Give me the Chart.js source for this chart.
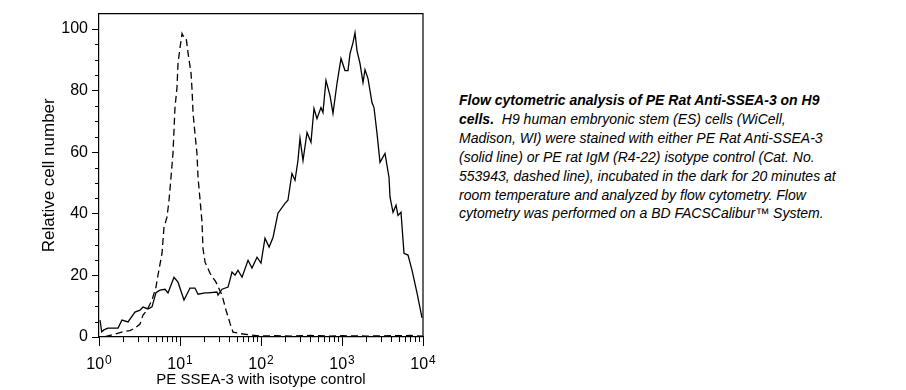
<!DOCTYPE html>
<html>
<head>
<meta charset="utf-8">
<script src="https://cdn.jsdelivr.net/npm/chart.js@4.4.1/dist/chart.umd.min.js"></script>
<style>
    body { margin: 0; background: #fff; width: 906px; height: 390px; position: relative; overflow: hidden; }
    #wrap { position: absolute; left: 0; top: 0; width: 440px; height: 390px; }
    #caption {
        position: absolute; left: 459px; top: 91px;
        font-family: "Liberation Sans", Arial, sans-serif;
        font-style: italic; font-size: 14px; line-height: 18.9px;
        white-space: nowrap; color: #000;
    }
</style>
</head>
<body>
<div id="wrap"><canvas id="facsChart"></canvas></div>
<div id="caption">
<b>Flow cytometric analysis of PE Rat Anti-SSEA-3 on H9<br>cells.</b>&nbsp; H9 human embryonic stem (ES) cells (WiCell,<br>
Madison, WI) were stained with either PE Rat Anti-SSEA-3<br>
(solid line) or PE rat IgM (R4-22) isotype control (Cat. No.<br>
553943, dashed line), incubated in the dark for 20 minutes at<br>
room temperature and analyzed by flow cytometry. Flow<br>
cytometry was performed on a BD FACSCalibur™ System.
</div>
<script>
// PE Rat Anti-SSEA-3 (solid line)
const solidX = [1.03, 1.08, 1.15, 1.29, 1.72, 1.92, 2.28, 2.78, 3.21, 3.49, 4.03, 4.51, 5.05, 5.66, 6.53, 7.11, 8.43, 9.45, 11.2, 13.3,
    15.3, 16.7, 20.4, 22.2, 28.6, 29.5, 33.0, 39.2, 43.9, 47.8, 52.0, 58.3, 69.2, 77.4, 89.3, 100, 112, 126, 141, 162,
    198, 215, 241, 263, 286, 303, 330, 370, 414, 451, 491, 550, 582, 634, 711, 774, 867, 972, 1089, 1186,
    1256, 1368, 1447, 1531, 1668, 1817, 1923, 2094, 2345, 2483, 2705, 2946, 3396, 3806, 3917, 4266, 4645, 4912, 5350, 5825,
    6531, 7313, 8433, 9727];
const solidY = [5.5, 1.7, 2.3, 2.9, 2.9, 5.5, 4.9, 8.1, 8.7, 9.7, 9.1, 9.8, 14.4, 15.2, 15.5, 14.3, 19.4, 17.8, 12.0, 15.9,
    15.9, 13.9, 14.3, 14.3, 14.6, 13.6, 15.5, 16.2, 21.1, 20.1, 21.7, 19.4, 24.9, 22.4, 25.9, 24.0, 32.1, 29.2, 32.4, 40.2,
    43.4, 44.4, 53.1, 50.9, 57.3, 64.5, 57.3, 66.4, 63.2, 74.2, 70.9, 74.5, 72.9, 83.3, 78.4, 72.6, 82.3, 90.4, 86.5, 86.5,
    92.0, 95.6, 98.8, 93.0, 88.8, 82.6, 86.8, 83.9, 76.1, 74.5, 66.1, 56.7, 59.6, 51.8, 45.4, 40.5, 42.8, 39.5, 40.5, 27.2,
    26.6, 21.7, 14.3, 6.2];

// PE rat IgM isotype control (dashed line)
const dashedX = [1.19, 1.49, 1.98, 2.41, 2.78, 3.21, 3.49, 3.91, 4.51, 5.05, 5.35, 6.0, 6.34, 6.91, 7.32, 7.74, 8.19, 8.43, 8.67, 9.18,
    9.45, 10.0, 10.6, 10.9, 11.9, 12.6, 13.7, 14.1, 14.5, 15.3, 16.2, 16.7, 17.7, 18.7, 19.2, 20.4, 23.5, 27.8, 33.0, 37.0,
    41.4, 45.1, 55.1, 77.4, 97.2, 150, 250, 400, 700, 1000, 2000, 4000, 7000, 10000];
const dashedY = [0.1, 0.8, 1.7, 2.1, 2.9, 4.2, 7.1, 8.7, 12.0, 16.2, 20.1, 27.2, 35.6, 38.9, 44.4, 51.8, 59.6, 67.1, 74.5, 81.0,
    88.8, 93.9, 98.5, 97.8, 97.2, 92.0, 85.5, 80.0, 72.6, 66.1, 59.6, 51.8, 44.4, 37.3, 28.8, 24.3, 20.7, 17.8, 13.6, 8.7,
    4.5, 1.6, 1.1, 0.6, 0.3, 0.4, 0.3, 0.5, 0.3, 0.4, 0.3, 0.4, 0.5, 0.3];

// axis ticks
const xTickValues = [1, 10, 100, 1000, 10000];
const xTickBase = '10';
const xTickExponents = ['0', '1', '2', '3', '4'];
const yTickValues = [0, 20, 40, 60, 80, 100];
const yMinorValues = [5, 10, 15, 25, 30, 35, 45, 50, 55, 65, 70, 75, 85, 90, 95];
const xMinorFactors = [2, 3, 4, 5, 6, 7, 8, 9];

const FONT = '"Liberation Sans", Arial, sans-serif';

// top/right frame, short minor ticks and 10^n labels with real superscripts
const frameAndMinorTicks = {
    id: 'frameAndMinorTicks',
    afterDraw(chart) {
        const ctx = chart.ctx;
        const area = chart.chartArea;
        const xs = chart.scales.x;
        const ys = chart.scales.y;
        ctx.save();
        ctx.strokeStyle = '#000';
        ctx.lineWidth = 1.2;
        ctx.beginPath();
        ctx.moveTo(area.left, area.top);
        ctx.lineTo(area.right, area.top);
        ctx.lineTo(area.right, area.bottom);
        ctx.stroke();

        ctx.lineWidth = 1;
        ctx.beginPath();
        xTickValues.slice(0, -1).forEach(function(dec) {
            xMinorFactors.forEach(function(f) {
                const px = Math.round(xs.getPixelForValue(dec * f)) + 0.5;
                ctx.moveTo(px, area.bottom);
                ctx.lineTo(px, area.bottom + 5);
            });
        });
        yMinorValues.forEach(function(v) {
            const py = Math.round(ys.getPixelForValue(v)) + 0.5;
            ctx.moveTo(area.left, py);
            ctx.lineTo(area.left - 4, py);
        });
        ctx.stroke();

        ctx.fillStyle = '#000';
        ctx.textBaseline = 'alphabetic';
        ctx.textAlign = 'left';
        xTickValues.forEach(function(v, i) {
            const px = xs.getPixelForValue(v);
            ctx.font = '16px ' + FONT;
            const w1 = ctx.measureText(xTickBase).width;
            ctx.font = '12px ' + FONT;
            const w2 = ctx.measureText(xTickExponents[i]).width;
            const start = px - (w1 + w2 + 1) / 2;
            ctx.font = '16px ' + FONT;
            ctx.fillText(xTickBase, start, area.bottom + 32);
            ctx.font = '12px ' + FONT;
            ctx.fillText(xTickExponents[i], start + w1 + 1, area.bottom + 27);
        });
        ctx.restore();
    }
};

document.addEventListener('DOMContentLoaded', function() {
    const ctx = document.getElementById('facsChart');
    new Chart(ctx, {
        type: 'line',
        data: {
            datasets: [{
                label: 'PE Rat Anti-SSEA-3',
                data: solidX.map((x, i) => ({ x: x, y: solidY[i] })),
                borderColor: '#000',
                borderWidth: 1.3,
                pointRadius: 0,
                tension: 0,
                fill: false
            }, {
                label: 'PE rat IgM isotype control',
                data: dashedX.map((x, i) => ({ x: x, y: dashedY[i] })),
                borderColor: '#000',
                borderWidth: 1.3,
                borderDash: [7, 4],
                pointRadius: 0,
                tension: 0,
                fill: false
            }]
        },
        options: {
            responsive: true,
            maintainAspectRatio: false,
            animation: false,
            layout: {
                padding: { left: 39, top: 13, right: 17, bottom: 0 }
            },
            plugins: {
                legend: { display: false },
                tooltip: { enabled: false }
            },
            scales: {
                x: {
                    type: 'logarithmic',
                    min: 1,
                    max: 10000,
                    afterBuildTicks: function(scale) {
                        scale.ticks = xTickValues.map(v => ({ value: v }));
                    },
                    afterFit: function(scale) {
                        scale.height = 53;
                    },
                    ticks: {
                        autoSkip: false,
                        maxRotation: 0,
                        font: { family: FONT, size: 16 },
                        // labels drawn by the plugin, with superscript exponents
                        callback: function() { return ''; }
                    },
                    grid: {
                        drawOnChartArea: false,
                        tickLength: 9,
                        tickColor: '#000',
                        tickWidth: 1
                    },
                    border: { display: true, color: '#000', width: 1.2 },
                    title: {
                        display: true,
                        text: 'PE SSEA-3 with isotype control',
                        color: '#000',
                        font: { family: FONT, size: 15 },
                        padding: { top: 0, bottom: 1 }
                    }
                },
                y: {
                    min: 0,
                    max: 105,
                    afterBuildTicks: function(scale) {
                        scale.ticks = yTickValues.map(v => ({ value: v }));
                    },
                    afterFit: function(scale) {
                        scale.width = 60;
                    },
                    ticks: {
                        color: '#000',
                        padding: 4,
                        font: { family: FONT, size: 16 }
                    },
                    grid: {
                        drawOnChartArea: false,
                        tickLength: 7,
                        tickColor: '#000',
                        tickWidth: 1
                    },
                    border: { display: true, color: '#000', width: 1.2 },
                    title: {
                        display: true,
                        text: 'Relative cell number',
                        color: '#000',
                        font: { family: FONT, size: 17 },
                        padding: 0
                    }
                }
            }
        },
        plugins: [frameAndMinorTicks]
    });
});
</script>
</body>
</html>
